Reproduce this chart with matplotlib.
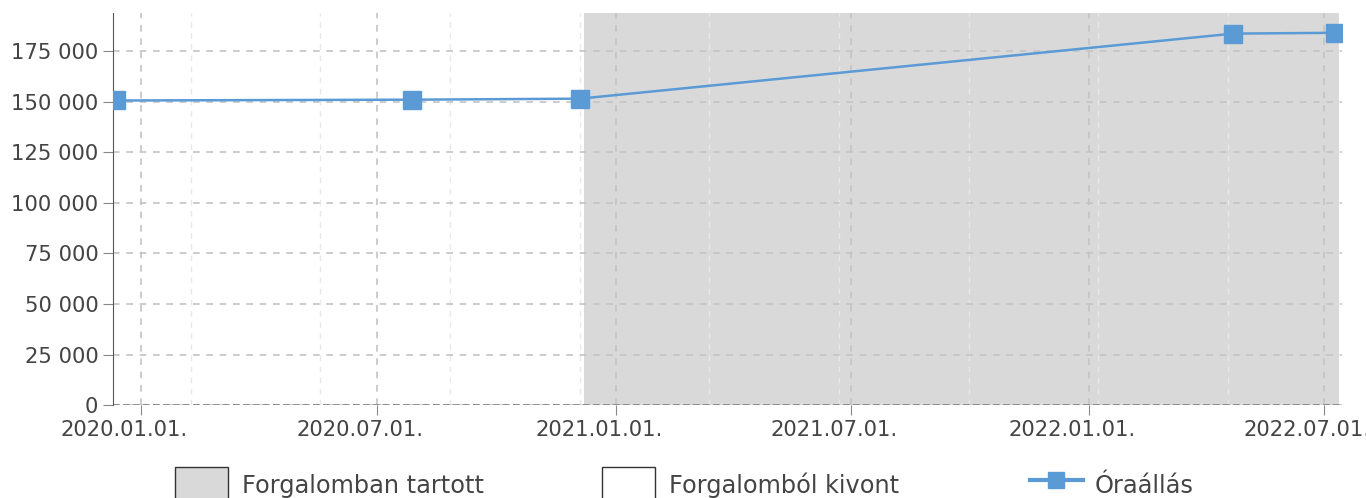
import datetime as dt
import matplotlib
matplotlib.use("Agg")
import matplotlib.pyplot as plt
import matplotlib.dates as mdates
import matplotlib.transforms as mtransforms
from matplotlib.patches import Patch
from matplotlib.lines import Line2D
from matplotlib.ticker import FuncFormatter, MultipleLocator

# odometer readings (Óraállás)
dates = [dt.date(2019, 12, 12), dt.date(2020, 7, 28), dt.date(2020, 12, 4),
         dt.date(2022, 4, 22), dt.date(2022, 7, 10)]
values = [150700, 151100, 151600, 183800, 184200]

# in-service period (Forgalomban tartott)
active_start = dt.date(2020, 12, 7)
active_end = dt.date(2022, 7, 13)

x_start = dt.date(2019, 12, 10)
x_end = dt.date(2022, 7, 15)
y_max = 194000

labels = ["Forgalomban tartott", "Forgalomból kivont", "Óraállás"]

line_col = "#5b9bd5"
shade_col = "#d9d9d9"
text_col = "#444444"

fig = plt.figure(figsize=(13.66, 4.98), dpi=100)
ax = fig.add_axes([0.0827, 0.1867, 0.8997, 0.7872])

ax.axvspan(active_start, active_end, color=shade_col, zorder=0.5, lw=0)

ax.plot(dates, values, color=line_col, lw=1.8, marker="s", markersize=13, zorder=3)

ax.set_xlim(x_start, x_end)
ax.set_ylim(0, y_max)

ax.xaxis.set_major_locator(mdates.MonthLocator(bymonth=[1, 7]))
ax.xaxis.set_major_formatter(mdates.DateFormatter("%Y.%m.%d."))
minor = [dt.date(2020, 2, 8) + dt.timedelta(days=100 * i) for i in range(9)]
ax.set_xticks(minor, minor=True)
ax.yaxis.set_major_locator(MultipleLocator(25000))
ax.yaxis.set_major_formatter(FuncFormatter(lambda v, p: f"{int(v):,}".replace(",", " ")))

ax.grid(True, which="major", ls=(0, (4, 4)), color="#c4c4c4", lw=1.2)
ax.grid(True, which="minor", axis="x", ls=(0, (4, 4)), color="#e8e8e8", lw=1.0)
ax.axhline(0, ls=(0, (4, 2)), color="#808080", lw=1.2, zorder=2)

for s in ["top", "right", "bottom"]:
    ax.spines[s].set_visible(False)
ax.spines["left"].set_color("#555555")
ax.tick_params(which="major", length=7, color="#888888", labelsize=15.2, labelcolor=text_col)
ax.tick_params(which="minor", length=0)

# shift date labels a bit left, as in the original
shift = mtransforms.ScaledTranslation(-17 / 100, 0, fig.dpi_scale_trans)
for lab in ax.get_xticklabels():
    lab.set_transform(lab.get_transform() + shift)

handles = [Patch(facecolor=shade_col, edgecolor="#333333", lw=1),
           Patch(facecolor="white", edgecolor="#333333", lw=1),
           Line2D([], [], color=line_col, lw=3, marker="s", markersize=12)]
leg_x = [175, 602, 1030]
pads = [0.6, 0.6, 0.5]
for h, lab, x, pad in zip(handles, labels, leg_x, pads):
    leg = fig.legend([h], [lab], loc="upper left", bbox_to_anchor=(x / 1366, 1 - 467 / 498),
                     frameon=False, fontsize=17.3, handlelength=2.2, handleheight=1.95,
                     handletextpad=pad, borderpad=0, borderaxespad=0)
    for t in leg.get_texts():
        t.set_color(text_col)

fig.savefig("out.png", dpi=100)
